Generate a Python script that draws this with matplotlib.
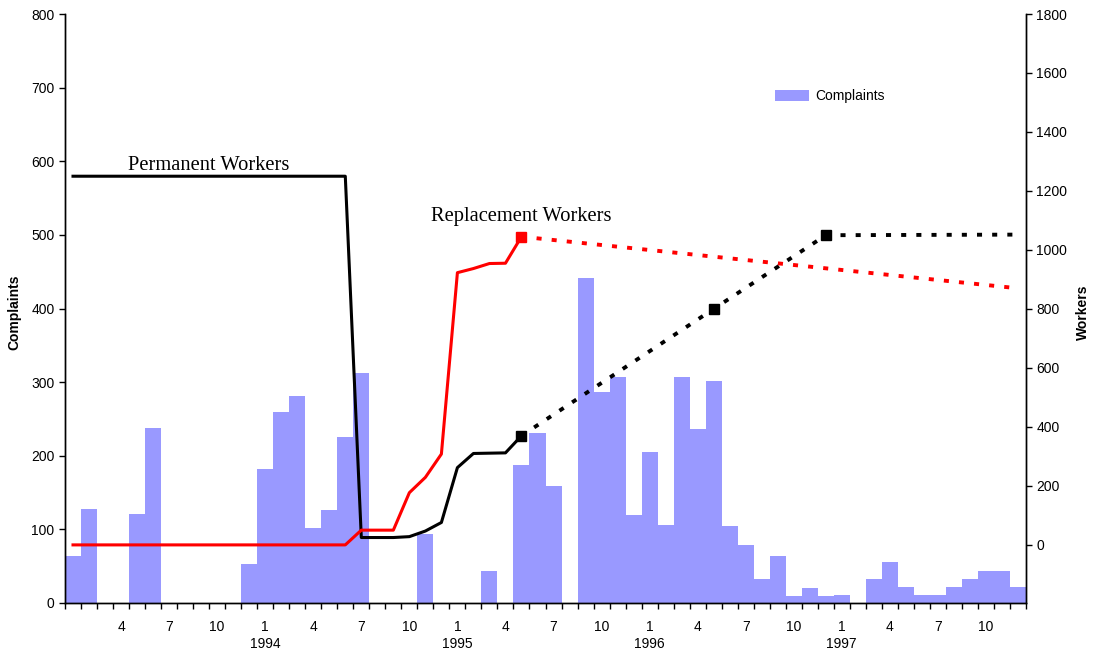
import matplotlib.pyplot as plt

# Monthly complaints, Jan 1993 .. Dec 1997 (month index 0..59)
complaints = [64, 128, 0, 0, 121, 238, 0, 0, 0, 0, 0, 53,
              182, 260, 281, 102, 126, 226, 312, 0, 0, 0, 94, 0,
              0, 0, 44, 0, 187, 231, 159, 0, 441, 286, 307, 119,
              205, 106, 307, 236, 302, 105, 79, 33, 64, 10, 20, 10,
              11, 0, 33, 56, 22, 11, 11, 22, 33, 44, 44, 22]

# Workers (right axis), read at the months where the lines bend
black_months = [0, 17, 18, 20, 21, 22, 23, 24, 25, 26, 27, 28]
black_workers = [1250, 1250, 25, 25, 28, 47, 76, 262, 310, 311, 312, 370]
red_months = [0, 17, 18, 20, 21, 22, 23, 24, 25, 26, 27, 28]
red_workers = [0, 0, 50, 50, 177, 229, 308, 923, 937, 954, 955, 1045]

# Projections (dotted)
black_proj_months = [28, 40, 47, 59]
black_proj_workers = [370, 800, 1050, 1052]
red_proj_months = [28, 59]
red_proj_workers = [1045, 870]

# Square markers
black_mark_months = [28, 40, 47]
black_mark_workers = [370, 800, 1050]
red_mark_months = [28]
red_mark_workers = [1045]

# x tick labels at category centres
label_months = [3, 6, 9, 12, 15, 18, 21, 24, 27, 30, 33, 36,
                39, 42, 45, 48, 51, 54, 57]
label_texts = ["4", "7", "10", "1\n1994", "4", "7", "10", "1\n1995",
               "4", "7", "10", "1\n1996", "4", "7", "10", "1\n1997",
               "4", "7", "10"]

plt.rcParams["font.family"] = ["Liberation Sans", "DejaVu Sans"]
plt.rcParams["font.size"] = 10

fig = plt.figure(figsize=(10.93, 6.52), dpi=100)
ax = fig.add_axes([65 / 1093, 1 - 603 / 652, 961 / 1093, 589 / 652])
ax2 = ax.twinx()

months = range(len(complaints))
ax.bar(months, complaints, width=1.0, color="#9999FF", linewidth=0,
       label="Complaints")

ax.set_xlim(-0.5, len(complaints) - 0.5)
ax.set_ylim(0, 800)
ax.set_yticks(range(0, 801, 100))
ax2.set_ylim(-197, 1800)
ax2.set_yticks(range(0, 1801, 200))

# tick marks at month boundaries, labels at month centres
ax.set_xticks([m - 0.5 for m in range(len(complaints) + 1)])
ax.set_xticklabels([])
ax.set_xticks(label_months, minor=True)
ax.set_xticklabels(label_texts, minor=True)
ax.tick_params(axis="x", which="major", direction="out", length=4, width=1)
ax.tick_params(axis="x", which="minor", length=0, pad=12.5)
ax.tick_params(axis="y", direction="out", length=4, width=1)
ax2.tick_params(axis="y", direction="out", length=4, width=1)

for a in (ax, ax2):
    a.spines["top"].set_visible(False)
    for s in ("left", "right", "bottom"):
        a.spines[s].set_linewidth(1)

# worker lines
lw = 2.2
dots = (0, (1.3, 2.6))
ax2.plot(black_months, black_workers, color="black", lw=lw)
ax2.plot(red_months, red_workers, color="red", lw=lw)
ax2.plot(black_proj_months, black_proj_workers, color="black", lw=2.8,
         linestyle=dots)
ax2.plot(red_proj_months, red_proj_workers, color="red", lw=2.8,
         linestyle=dots)
ax2.plot(black_mark_months, black_mark_workers, "s", color="black",
         markersize=7.5)
ax2.plot(red_mark_months, red_mark_workers, "s", color="red",
         markersize=7.5)

serif = ["Liberation Serif", "DejaVu Serif"]
ax2.text(3.45, 1285, "Permanent Workers", family=serif, fontsize=14.8,
         va="center", ha="left")
ax2.text(22.35, 1112, "Replacement Workers", family=serif, fontsize=14.8,
         va="center", ha="left")

ax.set_ylabel("Complaints", fontweight="bold")
ax.yaxis.set_label_coords(-0.045, 0.494)
ax2.set_ylabel("Workers", fontweight="bold")
ax2.yaxis.set_label_coords(1.052, 0.494)

ax.legend(loc="upper left", bbox_to_anchor=(0.739, 0.872), frameon=False,
          borderpad=0, borderaxespad=0, handlelength=2.4, handleheight=0.8,
          handletextpad=0.5)

fig.savefig("out.png", dpi=100)
